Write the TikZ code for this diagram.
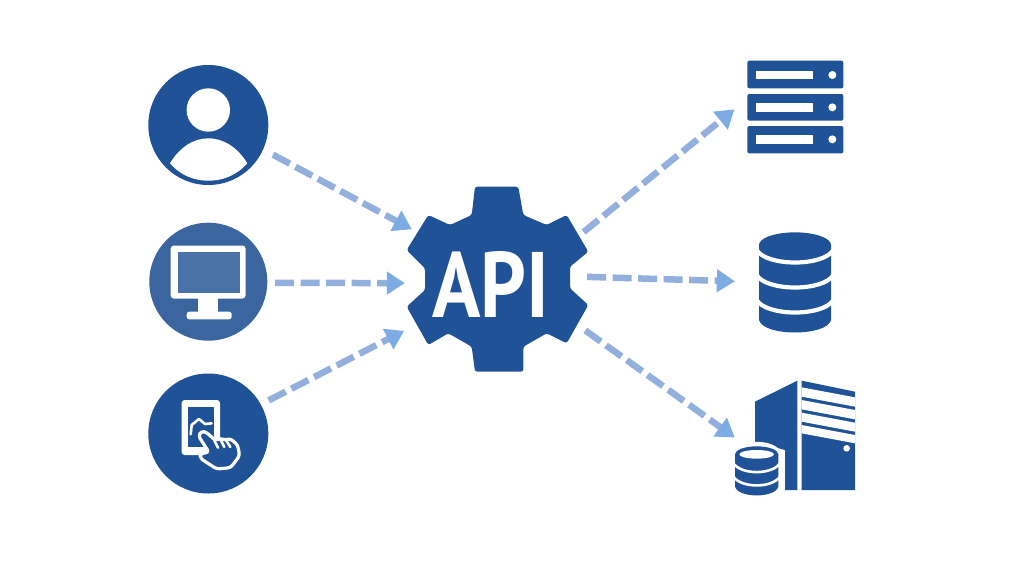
\documentclass[tikz,border=0pt]{standalone}
\usepackage{fontspec}
\setmainfont{PT Sans}
\usetikzlibrary{arrows.meta}
\definecolor{apiblue}{HTML}{1F5296}
\definecolor{monblue}{HTML}{3A659F}
\definecolor{screenblue}{HTML}{4A72A8}
\definecolor{dashblue}{HTML}{93AFDC}
\definecolor{tipblue}{HTML}{7DABE4}
\tikzset{
  flow/.style={line width=6.5pt,draw=dashblue,dash pattern=on 19pt off 6.5pt,
    -{Triangle[length=18pt,width=22pt,color=tipblue,fill=tipblue]}},
  badge/.style={circle,fill=apiblue,minimum size=120pt,inner sep=0pt},
  holder/.style={rectangle,inner sep=0pt},
  ink/.style={fill=apiblue,draw=none},
  paper/.style={fill=white,draw=none},
  zoomfive/.style={shift={(720,370)},x=0.33333pt,y=-0.33333pt},
  zoomfour/.style={shift={(720,50)},x=0.33333pt,y=-0.33333pt},
  zoomsix/.style={shift={(175,395)},x=0.33333pt,y=-0.33333pt},
  zoomseven/.style={shift={(730,435)},x=0.33333pt,y=-0.33333pt},
}
\begin{document}
\begin{tikzpicture}[x=1pt,y=-1pt]
\useasboundingbox (0,0) rectangle (1024,576);
\fill[white] (0,0) rectangle (1024,576);
% holder nodes
\node[badge] (user) at (208.3,125) {};
\node[badge,fill=monblue,minimum size=118pt] (monitor) at (208.3,281.7) {};
\node[badge] (phone) at (208.3,433.5) {};
\node[circle,inner sep=0pt,minimum size=180pt] (gear) at (497,280) {};
\node[holder,minimum width=96pt,minimum height=93pt] (srv) at (795.5,106.5) {};
\node[holder,minimum width=74pt,minimum height=99pt] (db) at (795,282) {};
\node[holder,minimum width=121pt,minimum height=115pt] (tower) at (795.5,437.5) {};
% user
\fill[white] (208.3,110) circle (21.7);
\fill[white] (170,163.3) .. controls (179,148) and (193,138.3) .. (208.3,138.3)
  .. controls (224,138.3) and (238,148) .. (247.3,163.3)
  .. controls (236,176) and (222,180.7) .. (208.3,180.7)
  .. controls (195,180.7) and (181,176) .. (170,163.3) -- cycle;
% monitor
\fill[white,rounded corners=3pt] (170.7,245.5) rectangle (245.5,298.5);
\fill[screenblue] (178.3,251.7) rectangle (240,293.3);
\fill[white] (198,298) rectangle (218,313);
\fill[white,rounded corners=2.5pt] (186.7,311.7) rectangle (231.7,319.3);
% phone with hand
\begin{scope}[zoomsix]
\fill[white,rounded corners=3pt] (20,15) rectangle (135,180);
\fill[apiblue] (38,35) rectangle (118,157);
\draw[white,line width=2.6pt,line join=round,line cap=round] (47,118) -- (50,90) -- (72,72) -- (90,87) -- (110,85);
\draw[white,line width=3.2pt,fill=apiblue,line join=round,line cap=round,rounded corners=3pt]
  (70,122) -- (80,108) -- (94,112) -- (122,137) -- (135,129) -- (150,136) -- (165,130) -- (188,150)
  -- (194,182) -- (167,218) -- (125,222) -- (76,190) -- (76,176) -- (102,172) -- cycle;
\draw[white,line width=2.6pt,line cap=round] (118,136) -- (129,158) (135,131) -- (148,156) (152,134) -- (166,156);
\end{scope}
% gear
\fill[apiblue,rounded corners=2.5pt,line join=round]
 (475,186.7) -- (518.3,186.7) -- (523.3,215) -- (546.7,225) -- (566.7,215) -- (588.3,251.7)
 -- (570,266.7) -- (570,288.3) -- (588.3,305) -- (566.7,343.3) -- (546.7,333.3) -- (523.3,346.7)
 -- (523.3,371.7) -- (475,371.7) -- (471.7,346.7) -- (448.3,333.3) -- (428.3,345) -- (406.7,306.7)
 -- (425,290) -- (425,268.3) -- (406.7,250) -- (428.3,215) -- (450,225) -- (471.7,215) -- cycle;
\node[text=white,inner sep=0pt,font=\bfseries\fontsize{93}{93}\selectfont] (apilabel) at (490.5,284)
  {\scalebox{0.86}[1]{API}};
% server rack
\begin{scope}[zoomfour]
\foreach \t/\b/\sa/\sb/\dy in {32/115/62/88/75,132/212/160/186/172,228/310/256/282/268}{
  \fill[apiblue,rounded corners=2pt] (82,\t) rectangle (370,\b);
  \fill[white] (108,\sa) rectangle (278,\sb);
  \fill[white] (337,\dy) circle (12);
}
% database
\fill[ink] (117,585) -- (117,810) .. controls (130,860) and (320,860) .. (333,810) -- (333,585) -- cycle;
\draw[white,line width=4.2pt] (110,600) .. controls (140,650) and (310,650) .. (340,600);
\draw[white,line width=4.2pt] (110,675) .. controls (140,725) and (310,725) .. (340,675);
\draw[white,line width=4.2pt] (110,750) .. controls (140,800) and (310,800) .. (340,750);
\fill[ink] (225,585) ellipse [x radius=108,y radius=38];
\end{scope}
% tower with small database
\begin{scope}[zoomfive]
\fill[ink] (105,95) -- (232,32) -- (232,360) -- (195,360) -- (195,240) -- (105,215) -- cycle;
\fill[ink] (245,32) -- (405,65) -- (405,360) -- (245,360) -- cycle;
\foreach \a/\b in {52/80,90/118,128/155,165/190}{
  \fill[white] (245,\a) -- (405,\a+30) -- (405,\b+30) -- (245,\b) -- cycle;
}
\fill[white] (380,235) circle (10);
\end{scope}
\begin{scope}[zoomseven]
\fill[white,draw=white,line width=6pt] (15,58) -- (15,155) .. controls (25,190) and (135,190) .. (145,155) -- (145,58)
  .. controls (135,20) and (25,20) .. (15,58) -- cycle;
\fill[ink] (15,58) -- (15,155) .. controls (25,190) and (135,190) .. (145,155) -- (145,58) -- cycle;
\draw[white,line width=2.6pt] (10,85) .. controls (35,120) and (125,120) .. (150,85);
\draw[white,line width=2.6pt] (10,125) .. controls (35,160) and (125,160) .. (150,125);
\fill[ink] (80,58) ellipse [x radius=65,y radius=24];
\fill[white] (80,58) ellipse [x radius=52,y radius=13];
\end{scope}
% connectors
\draw[flow,shorten <=11pt,shorten >=9pt] (user.-24.3) -- (gear.149.4);
\draw[flow,shorten <=7.7pt,shorten >=2pt] (monitor.-1.3) -- (gear.182);
\draw[flow,shorten <=8.7pt,shorten >=15.7pt] (phone.29) -- (gear.209.9);
\draw[flow,shorten <=9pt,shorten >=16.6pt] (gear.28.8) -- (srv.171);
\draw[flow,shorten >=23pt] (gear.2) -- (db.west);
\draw[flow,shorten <=11.6pt] (gear.-29.4) -- (tower.west);
\end{tikzpicture}
\end{document}
